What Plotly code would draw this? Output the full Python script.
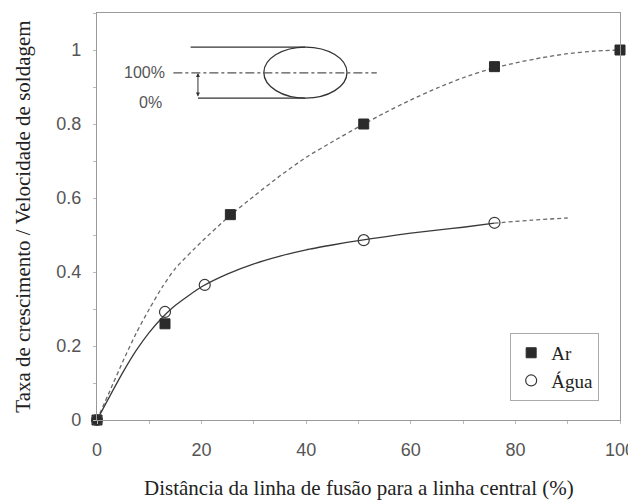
import plotly.graph_objects as go

# Measured points
ar_x = [0, 13, 25.5, 51, 76, 100]
ar_y = [0, 0.26, 0.555, 0.80, 0.955, 1.0]
agua_x = [0, 13, 20.6, 51, 76]
agua_y = [0, 0.292, 0.365, 0.486, 0.533]

# Trend curves
ar_fit_x = [0, 2.5, 5, 7.5, 10, 12.5, 15, 20, 25, 30, 35, 40, 45, 50, 55, 60, 65, 70, 75, 80, 85, 90, 95, 100]
ar_fit_y = [0, 0.08, 0.16, 0.235, 0.30, 0.36, 0.41, 0.482, 0.547, 0.605, 0.66, 0.71, 0.752, 0.792, 0.83, 0.865, 0.897, 0.925, 0.948, 0.965, 0.979, 0.99, 0.997, 1.0]
agua_fit_x = [0, 2.5, 5, 7.5, 10, 12.5, 15, 20, 25, 30, 35, 40, 45, 50, 55, 60, 65, 70, 76]
agua_fit_y = [0, 0.066, 0.13, 0.188, 0.237, 0.277, 0.31, 0.36, 0.395, 0.422, 0.443, 0.46, 0.473, 0.485, 0.495, 0.505, 0.513, 0.521, 0.532]
agua_ext_x = [76, 83, 90]
agua_ext_y = [0.532, 0.54, 0.546]

x_ticks = [0, 20, 40, 60, 80, 100]
y_ticks = [0, 0.2, 0.4, 0.6, 0.8, 1.0]
y_tick_labels = ["0", "0.2", "0.4", "0.6", "0.8", "1"]
x_range = [0, 100]
y_range = [0, 1.1]

fig = go.Figure()
fig.add_trace(go.Scatter(x=ar_fit_x, y=ar_fit_y, mode="lines", line=dict(color="#6a6a6a", width=1.3, dash="4px,3px", shape="spline", smoothing=0.6), showlegend=False, hoverinfo="skip"))
fig.add_trace(go.Scatter(x=agua_fit_x, y=agua_fit_y, mode="lines", line=dict(color="#3a3a3a", width=1.3, shape="spline", smoothing=0.6), showlegend=False, hoverinfo="skip"))
fig.add_trace(go.Scatter(x=agua_ext_x, y=agua_ext_y, mode="lines", line=dict(color="#6a6a6a", width=1.3, dash="4px,3px", shape="spline"), showlegend=False, hoverinfo="skip"))
fig.add_trace(go.Scatter(x=ar_x, y=ar_y, mode="markers", name="Ar", marker=dict(symbol="square", size=10, color="#2b2b2b", line=dict(color="#2b2b2b", width=1)), cliponaxis=False))
fig.add_trace(go.Scatter(x=agua_x, y=agua_y, mode="markers", name="Água", marker=dict(symbol="circle-open", size=11, color="#3a3a3a", line=dict(width=1.2)), cliponaxis=False))

line_style = dict(color="#333333", width=1.3)
# inset schematic
fig.add_shape(type="line", x0=17.9, x1=39.8, y0=1.008, y1=1.008, line=line_style)
fig.add_shape(type="line", x0=19.3, x1=39.8, y0=0.870, y1=0.870, line=line_style)
fig.add_shape(type="circle", x0=31.9, x1=47.8, y0=0.870, y1=1.008, line=line_style)
fig.add_shape(type="line", x0=14.6, x1=53.5, y0=0.938, y1=0.938, line=dict(color="#555555", width=1.2, dash="dashdot"))
fig.add_annotation(x=19.3, y=0.938, ax=19.3, ay=0.870, xref="x", yref="y", axref="x", ayref="y", text="", showarrow=True, arrowhead=2, arrowside="end+start", arrowsize=0.8, arrowwidth=1, arrowcolor="#333333")
fig.add_annotation(x=13.4, y=0.938, text="100%", showarrow=False, xanchor="right", yanchor="middle", font=dict(family="Liberation Sans", size=16, color="#555555"))
fig.add_annotation(x=10.2, y=0.858, text="0%", showarrow=False, xanchor="center", yanchor="middle", font=dict(family="Liberation Sans", size=16, color="#555555"))

# axis titles
fig.add_annotation(xref="paper", yref="paper", x=0.5, y=-0.167, yanchor="middle", xanchor="center", showarrow=False,
                   text="Distância da linha de fusão para a linha central (%)",
                   font=dict(family="Liberation Serif", size=21, color="#222222"))
fig.add_annotation(xref="paper", yref="paper", x=-0.143, y=0.5, yanchor="middle", xanchor="center", showarrow=False, textangle=-90,
                   text="Taxa de crescimento / Velocidade de soldagem",
                   font=dict(family="Liberation Serif", size=21, color="#222222"))

fig.update_layout(
    width=628, height=494,
    margin=dict(l=89, r=16, t=5, b=82),
    plot_bgcolor="white", paper_bgcolor="white",
    showlegend=True,
    legend=dict(x=0.79, y=0.214, xanchor="left", yanchor="top", bordercolor="#aaaaaa", borderwidth=1,
                bgcolor="white", font=dict(family="Liberation Serif", size=19, color="#222222"),
                tracegroupgap=0, itemwidth=30),
    xaxis=dict(range=x_range, tickvals=x_ticks, showline=True, mirror=True, linecolor="#9a9a9a", linewidth=1.2,
               ticks="outside", ticklen=13, tickcolor="rgba(0,0,0,0)", showgrid=False, zeroline=False, automargin=False,
               minor=dict(ticks="outside", dtick=10, ticklen=3, tickcolor="#bbbbbb"),
               tickfont=dict(family="Liberation Sans", size=18, color="#555555")),
    yaxis=dict(range=y_range, tickvals=y_ticks, ticktext=y_tick_labels, showline=True, mirror=True, linecolor="#9a9a9a", linewidth=1.2,
               ticks="outside", ticklen=11, tickcolor="rgba(0,0,0,0)", showgrid=False, zeroline=False, automargin=False,
               minor=dict(ticks="outside", dtick=0.1, ticklen=3, tickcolor="#bbbbbb"),
               tickfont=dict(family="Liberation Sans", size=18, color="#555555")),
    xaxis2=dict(range=x_range, tickvals=x_ticks, overlaying="x", side="bottom", anchor="y", showline=False, showgrid=False, zeroline=False,
                ticks="outside", ticklen=4, tickcolor="#9a9a9a", showticklabels=False, automargin=False),
    yaxis2=dict(range=y_range, tickvals=y_ticks, overlaying="y", side="left", anchor="x", showline=False, showgrid=False, zeroline=False,
                ticks="outside", ticklen=4, tickcolor="#9a9a9a", showticklabels=False, automargin=False),
)

fig.write_html("out.html")
